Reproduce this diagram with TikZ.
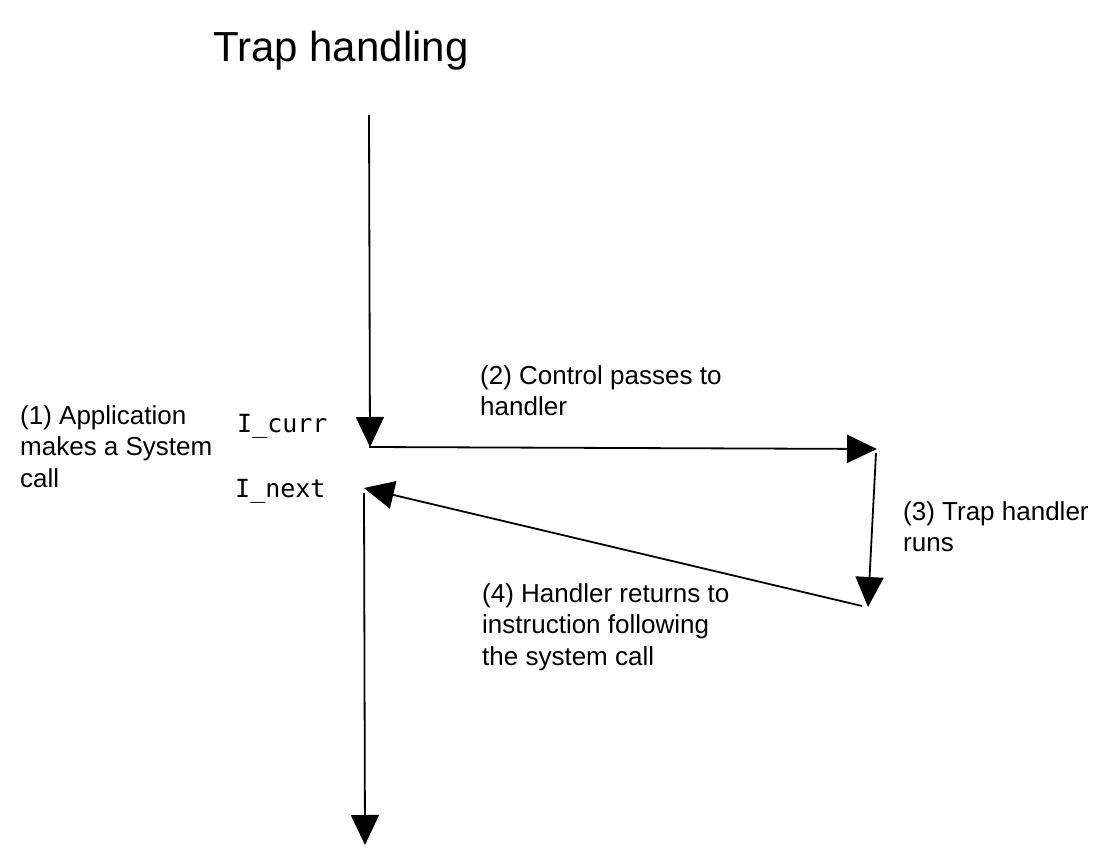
\documentclass[tikz,border=0pt]{standalone}
\usepackage{fontspec}
\setmainfont{Liberation Sans}
\newfontfamily\codefont{DejaVu Sans Mono}
\usetikzlibrary{arrows.meta}
\begin{document}
\begin{tikzpicture}[x=1pt,y=-1pt,
  conn/.style={line width=1.8pt, -{Triangle[length=30pt,width=28pt]}},
  lbl/.style={anchor=north west, align=left, inner sep=0pt, font=\fontsize{26}{31.5}\selectfont},
  code/.style={anchor=base west, inner sep=0pt, font=\codefont\fontsize{25}{30}\selectfont},
  titlefont/.style={anchor=base west, inner sep=0pt, font=\fontsize{42}{50}\selectfont}]
\useasboundingbox (0,0) rectangle (1114,864);
\node[titlefont] (title) at (213,62) {Trap handling};
\node[lbl] (l1) at (20,405) {(1) Application\\makes a System\\call};
\node[code] (icurr) at (237,432) {I\_curr};
\node[code] (inext) at (235,497) {I\_next};
\node[lbl] (l2) at (480,365) {(2) Control passes to\\handler};
\node[lbl] (l3) at (903,501) {(3) Trap handler\\runs};
\node[lbl] (l4) at (482,583) {(4) Handler returns to\\instruction following\\the system call};
\coordinate (top) at (369,115);
\coordinate (curr) at (370,447);
\coordinate (curr2) at (369,447);
\coordinate (hand) at (877,449);
\coordinate (hand2) at (876,453);
\coordinate (hend) at (868,607);
\coordinate (hend2) at (862,606);
\coordinate (next) at (364,488);
\coordinate (next2) at (364,493);
\coordinate (bottom) at (365,845);
\draw[conn] (top) -- (curr);
\draw[conn] (curr2) -- (hand);
\draw[conn] (hand2) -- (hend);
\draw[conn] (hend2) -- (next);
\draw[conn] (next2) -- (bottom);
\end{tikzpicture}
\end{document}
